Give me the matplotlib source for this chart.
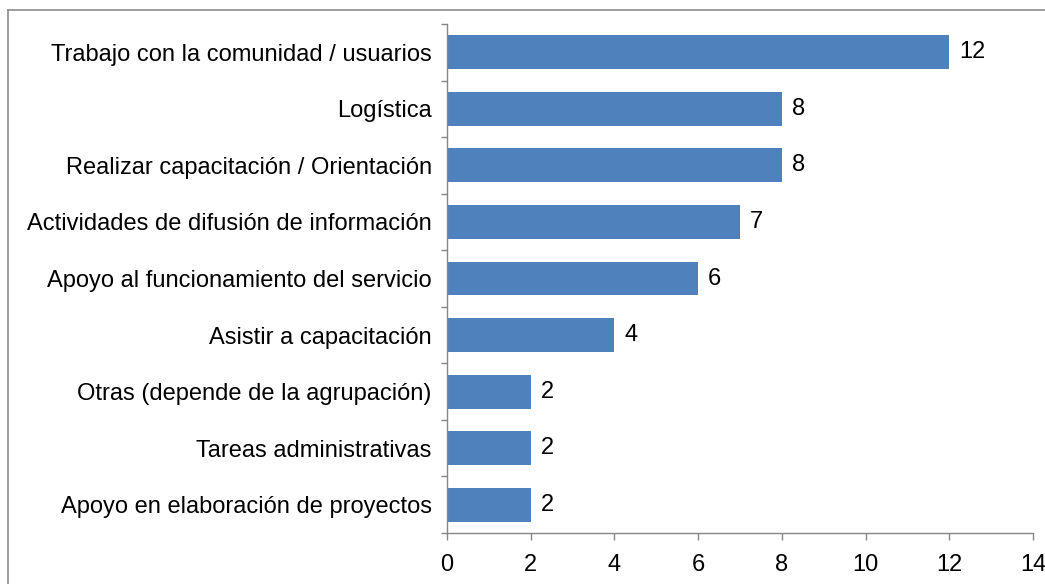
import matplotlib
matplotlib.use("Agg")
import matplotlib.pyplot as plt
from matplotlib.lines import Line2D
import numpy as np

categories = [
    "Trabajo con la comunidad / usuarios",
    "Logística",
    "Realizar capacitación / Orientación",
    "Actividades de difusión de información",
    "Apoyo al funcionamiento del servicio",
    "Asistir a capacitación",
    "Otras (depende de la agrupación)",
    "Tareas administrativas",
    "Apoyo en elaboración de proyectos",
]
values = [12, 8, 8, 7, 6, 4, 2, 2, 2]
xticks = [0, 2, 4, 6, 8, 10, 12, 14]

plt.rcParams['font.family'] = ['Liberation Sans', 'DejaVu Sans']

W, H = 1045, 584
fig = plt.figure(figsize=(W / 100, H / 100), dpi=100)
fig.patch.set_facecolor('white')

left, right, top, bottom = 447, 1033, 24, 533
ax = fig.add_axes([left / W, 1 - bottom / H, (right - left) / W, (bottom - top) / H])

n = len(categories)
y = np.arange(n)[::-1]
bar_color = '#4F81BD'
ax.barh(y, values, height=0.6, color=bar_color, zorder=2)

FS = 17
ax.set_xlim(0, 14)
ax.set_ylim(-0.5, n - 0.5)
ax.set_xticks(xticks)
ax.set_xticklabels([str(t) for t in xticks], fontsize=FS)
ax.set_yticks(y)
ax.set_yticklabels(categories, fontsize=FS)
ax.set_yticks(np.arange(-0.5, n, 1.0), minor=True)

axis_color = '#868686'
for s in ['top', 'right']:
    ax.spines[s].set_visible(False)
for s in ['left', 'bottom']:
    ax.spines[s].set_color(axis_color)
    ax.spines[s].set_linewidth(1.0)

ax.tick_params(axis='y', which='major', length=0, pad=11)
ax.tick_params(axis='y', which='minor', length=4, width=1, color=axis_color, direction='out')
ax.tick_params(axis='x', which='major', length=5, width=1, color=axis_color, direction='out', pad=10)

for yi, v in zip(y, values):
    ax.annotate(str(v), xy=(v, yi), xytext=(7, 0), textcoords='offset points',
                va='center', ha='left', fontsize=FS, color='black')

# outer chart frame
fx0 = 8 / W
fy1 = 1 - 10 / H
fig.add_artist(Line2D([fx0, 1.0], [fy1, fy1], transform=fig.transFigure, color='#8c8c8c', lw=1.2))
fig.add_artist(Line2D([fx0, fx0], [0.0, fy1], transform=fig.transFigure, color='#8c8c8c', lw=1.2))

fig.savefig('out.png', dpi=100, facecolor='white')
